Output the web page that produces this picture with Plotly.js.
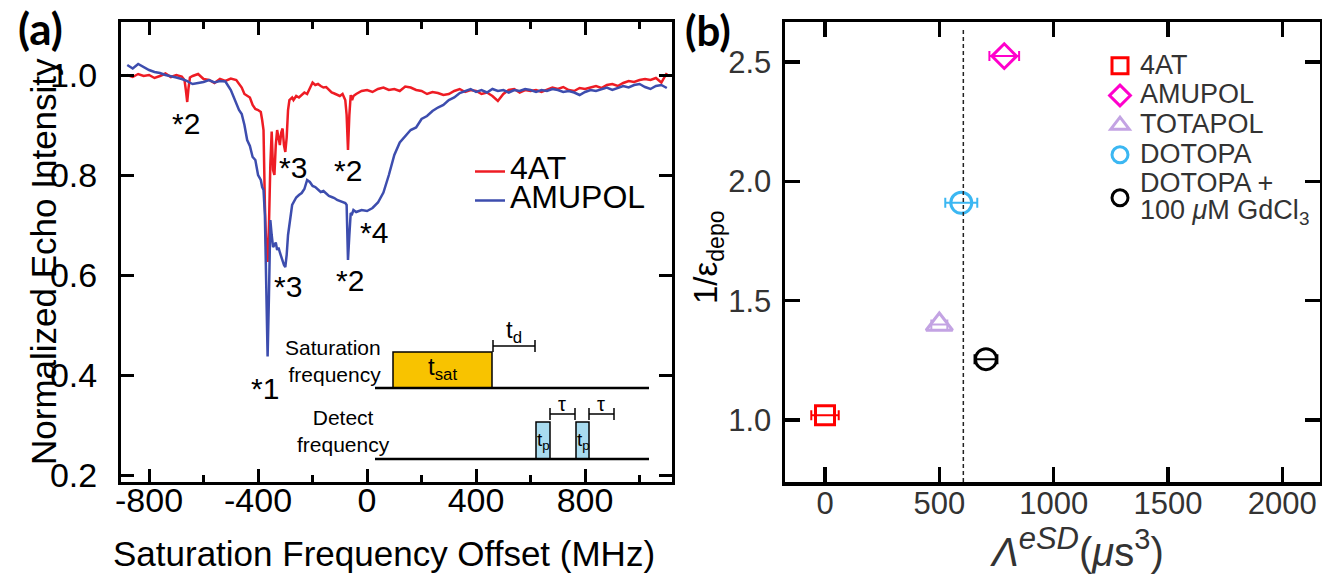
<!DOCTYPE html>
<html><head><meta charset="utf-8">
<script src="https://cdn.plot.ly/plotly-3.0.1.min.js"></script>
<style>html,body{margin:0;padding:0;background:#fff;} #chart{width:1322px;height:575px;}</style>
</head><body><div id="chart"></div>
<script>
// ---------- Panel (a): saturation spectra ----------
const freqMHz = [
  -880,-860,-840,-820,-800,-780,-760,-740,-720,-700,-680,
  -670,-665,-660,-655,-650,
  -640,-620,-600,-580,-560,-540,-520,-500,-480,
  -470,-460,-450,-440,-430,-420,-410,-400,-390,
  -385,-380,-375,-370,-365,-360,-355,-350,-345,-340,-335,-330,-325,-320,-315,-310,-305,-300,-295,-290,-285,-280,-275,-270,-265,-260,
  -250,-240,-230,-220,-210,-200,-190,-180,-170,-160,-150,-140,-130,-120,-110,-100,-90,
  -85,-80,-75,-70,-65,-60,-55,-50,
  -40,-20,0,20,40,60,80,100,120,140,160,180,200,220,240,260,280,300,320,340,360,380,400,420,
  440,460,480,500,520,540,560,580,600,620,640,660,680,700,720,740,760,780,800,820,840,860,880,900,920,940,960,980,1000,1020,1040,1060,1080,1100
];
const echo4AT = [
  1.0,0.996,1.002,0.998,1.0,0.994,0.998,1.003,0.996,1.0,0.997,
  0.99,0.97,0.946,0.975,0.995,
  0.998,1.002,0.992,0.99,0.984,0.992,0.988,0.993,0.99,
  0.983,0.975,0.962,0.958,0.955,0.94,0.932,0.93,0.926,
  0.91,0.89,0.74,0.655,0.626,0.70,0.82,0.887,0.81,0.80,0.86,0.89,0.875,0.86,0.885,0.893,0.86,0.846,0.875,0.93,0.95,0.953,0.955,0.95,0.955,0.958,
  0.955,0.96,0.965,0.962,0.975,0.985,0.98,0.982,0.978,0.975,0.976,0.97,0.965,0.963,0.96,0.958,0.962,
  0.955,0.95,0.92,0.85,0.92,0.96,0.95,0.958,
  0.962,0.968,0.97,0.966,0.972,0.975,0.97,0.972,0.968,0.977,0.975,0.97,0.968,0.962,0.966,0.964,0.96,0.962,0.968,0.972,0.966,0.97,0.968,0.962,
  0.965,0.958,0.948,0.962,0.97,0.972,0.965,0.97,0.968,0.97,0.966,0.97,0.975,0.972,0.976,0.97,0.968,0.974,0.972,0.975,0.978,0.974,0.98,0.982,0.978,0.984,0.988,0.986,0.99,0.992,0.99,0.994,0.985,1.004
];
const echoAMUPOL = [
  1.02,1.013,1.022,1.016,1.01,1.006,1.004,1.0,0.998,0.995,0.992,
  0.99,0.99,0.988,0.986,0.985,
  0.982,0.984,0.986,0.99,0.985,0.988,0.987,0.97,0.945,
  0.93,0.922,0.90,0.87,0.858,0.836,0.83,0.80,0.79,
  0.776,0.77,0.72,0.55,0.437,0.56,0.71,0.68,0.656,0.66,0.665,0.65,0.655,0.645,0.635,0.628,0.62,0.616,0.64,0.68,0.696,0.72,0.74,0.745,0.75,0.755,
  0.76,0.764,0.772,0.79,0.786,0.778,0.776,0.77,0.766,0.768,0.762,0.758,0.756,0.754,0.75,0.748,0.746,
  0.745,0.744,0.74,0.63,0.68,0.724,0.722,0.73,
  0.726,0.73,0.728,0.734,0.745,0.765,0.80,0.84,0.865,0.878,0.89,0.895,0.912,0.918,0.928,0.935,0.94,0.95,0.955,0.964,0.968,0.972,0.966,0.97,
  0.965,0.972,0.968,0.97,0.965,0.97,0.968,0.972,0.97,0.966,0.97,0.968,0.972,0.97,0.966,0.968,0.965,0.96,0.966,0.97,0.968,0.972,0.975,0.97,0.974,0.978,0.975,0.98,0.982,0.976,0.972,0.978,0.98,0.974
];
const xTickValsA = [-800,-400,0,400,800];
const xTickTextA = ['-800','-400','0','400','800'];
const xMinorValsA = [-600,-200,200,600,1000];
const peakLabelText = ['*2','*3','*2','*4','*3','*2','*1'];
const peakLabelX = [-664,-272,-70,26,-290,-62,-374];
const peakLabelY = [0.902,0.814,0.808,0.684,0.578,0.59,0.374];

// ---------- Panel (b): 1/eps_depo vs Lambda_eSD ----------
const radicalNames = ['4AT','AMUPOL','TOTAPOL','DOTOPA','DOTOPA +<br>100 <i>μ</i>M GdCl<sub>3</sub>'];
const lambdaESD = [0, 784, 500, 596, 704];
const lambdaErr = [60, 65, 35, 70, 50];
const invEpsDepo = [1.02, 2.525, 1.40, 1.91, 1.255];
const thresholdLambda = 605;

// ---------- styling ----------
const W = 1322, H = 575;
const PX = x => x / W, PY = y => 1 - y / H;
const FONT = 'Liberation Sans, Arial, sans-serif';
const colorsB = ['#FF0000', '#FF00CC', '#C3A3E3', '#3BB7F2', '#000000'];
const symbolsB = ['square-open', 'diamond-open', 'triangle-up-open', 'circle-open', 'circle-open'];
const sizesB = [19, 19, 23, 21, 21];

const big = (t, s) => t.split('<br>').map(l => '<span style="font-size:' + s + 'px">' + l + '</span>').join('<br>');

const traces = [
  {x: freqMHz, y: echo4AT, type: 'scatter', mode: 'lines', name: big('4AT', 32),
   line: {color: '#EE1C24', width: 2.5}, xaxis: 'x', yaxis: 'y', legend: 'legend'},
  {x: freqMHz, y: echoAMUPOL, type: 'scatter', mode: 'lines', name: big('AMUPOL', 32),
   line: {color: '#3D4DAE', width: 2.5}, xaxis: 'x', yaxis: 'y', legend: 'legend'}
];
radicalNames.forEach((n, i) => {
  traces.push({
    x: [lambdaESD[i]], y: [invEpsDepo[i]], type: 'scatter', mode: 'markers',
    name: big(n, 27), xaxis: 'x2', yaxis: 'y2', legend: 'legend2',
    marker: {symbol: symbolsB[i], size: sizesB[i], color: colorsB[i], line: {width: 3, color: colorsB[i]}},
    error_x: {type: 'data', array: [lambdaErr[i]], visible: true, color: colorsB[i], thickness: 2, width: 5}
  });
});

const annotations = [];
peakLabelText.forEach((t, i) => annotations.push({
  x: peakLabelX[i], y: peakLabelY[i], xref: 'x', yref: 'y', text: t, showarrow: false,
  font: {family: FONT, size: 30, color: '#000'}, xanchor: 'center', yanchor: 'middle'
}));
const ann = (x, y, text, size, extra) => annotations.push(Object.assign({
  x: PX(x), y: PY(y), xref: 'paper', yref: 'paper', text: text, showarrow: false,
  font: {family: FONT, size: size, color: '#000'}, xanchor: 'center', yanchor: 'middle'
}, extra || {}));
// axis titles and panel labels
ann(43, 262, 'Normalized Echo Intensity', 35, {textangle: -90});
ann(384, 553, 'Saturation Frequency Offset (MHz)', 35);
ann(708, 257, '1/ε<sub>depo</sub>', 33, {textangle: -90});
ann(1077, 547, '<i>Λ</i><sup><span style="font-size:31px"><i>eSD</i></span></sup>(<i>μ</i>s<sup><span style="font-size:29px">3</span></sup>)', 40,
    {font: {family: FONT, size: 40, color: '#333'}});
ann(40, 28, '(a)', 44, {font: {family: 'Lato, sans-serif', size: 44, color: '#000', weight: 'bold'}});
ann(708, 30, '(b)', 42, {font: {family: 'Lato, sans-serif', size: 42, color: '#000', weight: 'bold'}});
// inset pulse-sequence labels
ann(383, 361, 'Saturation<br>frequency', 21, {xanchor: 'right', align: 'right'});
ann(343, 431, 'Detect<br>frequency', 21, {align: 'center'});
ann(442, 368, 't<sub>sat</sub>', 24);
ann(514, 331, 't<sub>d</sub>', 24);
ann(543, 441, 't<sub>p</sub>', 19);
ann(583, 441, 't<sub>p</sub>', 19);
ann(562, 404, 'τ', 20);
ann(601, 404, 'τ', 20);

// inset pulse-sequence schematic (page pixel geometry)
const shapes = [];
const seg = (x0, y0, x1, y1, w) => shapes.push({type: 'line', xref: 'paper', yref: 'paper',
  x0: PX(x0), y0: PY(y0), x1: PX(x1), y1: PY(y1), line: {color: '#000', width: w}});
const box = (x0, y0, x1, y1, fill) => shapes.push({type: 'rect', xref: 'paper', yref: 'paper',
  x0: PX(x0), y0: PY(y0), x1: PX(x1), y1: PY(y1), fillcolor: fill, line: {color: '#000', width: 1.5}});
const bracket = (x0, x1, y) => { seg(x0, y, x1, y, 1.5); seg(x0, y - 6, x0, y + 6, 1.5); seg(x1, y - 6, x1, y + 6, 1.5); };
box(393, 352, 492, 388, '#F8C300');
seg(375, 388, 649, 388, 2.5);
bracket(493, 535, 346);
box(536, 422, 550, 459, '#A9DCF0');
box(576, 422, 589, 459, '#A9DCF0');
seg(375, 459, 649, 459, 2.5);
bracket(550, 575, 414);
bracket(589, 614, 414);
// threshold line in panel (b)
shapes.push({type: 'line', xref: 'x2', yref: 'y2 domain', x0: thresholdLambda, x1: thresholdLambda, y0: 0, y1: 0.983,
  line: {color: '#222', width: 1.5, dash: '4px,3px'}});

const axA = {showline: true, linecolor: '#000', linewidth: 3, mirror: 'ticks', ticks: 'inside',
  tickcolor: '#000', tickwidth: 3, showgrid: false, zeroline: false,
  tickfont: {family: FONT, size: 34, color: '#000'}};
const axB = {showline: true, linecolor: '#000', linewidth: 3.5, mirror: 'ticks', ticks: 'inside',
  tickcolor: '#000', tickwidth: 3.5, ticklen: 15, showgrid: false, zeroline: false,
  tickfont: {family: FONT, size: 31, color: '#333'}};

const layout = {
  width: W, height: H, margin: {l: 0, r: 0, t: 0, b: 0},
  paper_bgcolor: '#fff', plot_bgcolor: 'rgba(0,0,0,0)',
  xaxis: Object.assign({}, axA, {domain: [121 / W, 672 / W], range: [-903, 1119], anchor: 'y',
    tickmode: 'array', tickvals: xTickValsA, ticktext: xTickTextA, ticklen: 13, ticklabelstandoff: -14,
    minor: {tickmode: 'array', tickvals: xMinorValsA, ticks: 'inside', ticklen: 7, tickwidth: 3, tickcolor: '#000'}}),
  yaxis: Object.assign({}, axA, {domain: [1 - 482 / H, 1 - 22 / H], range: [0.186, 1.106], anchor: 'x',
    tick0: 0.2, dtick: 0.2, tickformat: '.1f', ticklen: 13, ticklabelstandoff: 14}),
  xaxis2: Object.assign({}, axB, {domain: [785 / W, 1320 / W], range: [-175, 2165], anchor: 'y2',
    tick0: 0, dtick: 500, ticklabelstandoff: -9}),
  yaxis2: Object.assign({}, axB, {domain: [1 - 482 / H, 1 - 22 / H], range: [0.74, 2.668], anchor: 'x2',
    tick0: 1.0, dtick: 0.5, tickformat: '.1f', ticklabelstandoff: 4}),
  legend: {x: PX(470), y: PY(152), xanchor: 'left', yanchor: 'top', bgcolor: 'rgba(0,0,0,0)',
    borderwidth: 0, font: {family: FONT, size: 20, color: '#000'}},
  legend2: {x: PX(1100), y: PY(46), xanchor: 'left', yanchor: 'top', bgcolor: 'rgba(0,0,0,0)',
    borderwidth: 0, font: {family: FONT, size: 20.5, color: '#333'}},
  annotations: annotations, shapes: shapes
};
Plotly.newPlot('chart', traces, layout, {staticPlot: true, displayModeBar: false});
</script></body></html>
